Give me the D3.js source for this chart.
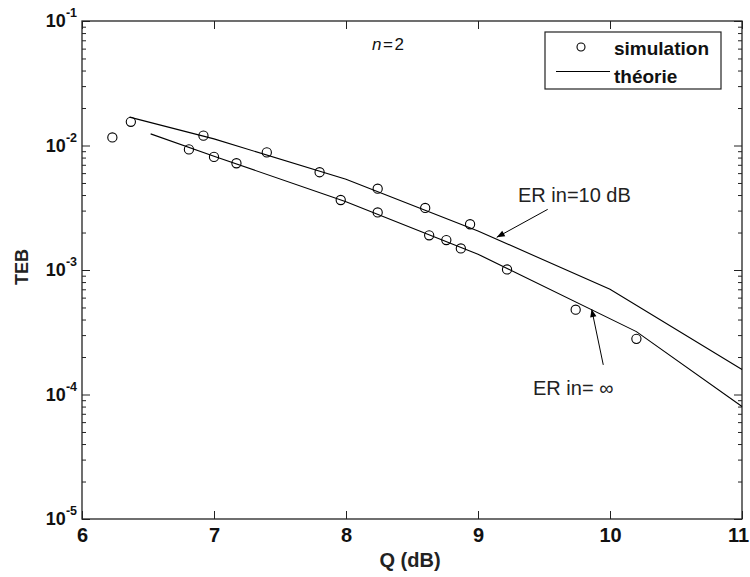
<!DOCTYPE html>
<html>
<head>
<meta charset="utf-8">
<script src="https://cdn.jsdelivr.net/npm/d3@7"></script>
<style>
  html, body { margin: 0; padding: 0; background: #fff; }
  svg { display: block; }
</style>
</head>
<body>
<svg id="chart" width="750" height="577"></svg>
<script>
// Simulated bit error rate (TEB) versus Q factor, n = 2
const simQ   = [6.23, 6.37, 6.81, 6.92, 7.00, 7.17, 7.40, 7.80, 7.96, 8.24, 8.24, 8.60, 8.63, 8.76, 8.87, 8.94, 9.22, 9.74, 10.20];
const simTEB = [1.16e-2, 1.55e-2, 9.3e-3, 1.20e-2, 8.1e-3, 7.2e-3, 8.8e-3, 6.1e-3, 3.65e-3, 4.5e-3, 2.9e-3, 3.15e-3, 1.9e-3, 1.74e-3, 1.49e-3, 2.33e-3, 1.01e-3, 4.8e-4, 2.8e-4];

// Theoretical curves
const theoryQ10    = [6.36, 7, 8, 9, 10, 11];
const theoryTEB10  = [1.69e-2, 1.13e-2, 5.35e-3, 2.06e-3, 7.0e-4, 1.59e-4];
const theoryQinf   = [6.52, 7, 8, 9, 10.2, 11];
const theoryTEBinf = [1.24e-2, 8.2e-3, 3.54e-3, 1.34e-3, 3.2e-4, 8.0e-5];

// Axis ticks
const xTicks = [6, 7, 8, 9, 10, 11];
const yExponents = [-1, -2, -3, -4, -5];

// Text
const xTitle = "Q (dB)";
const yTitle = "TEB";
const legendLabels = ["simulation", "théorie"];
const annotationTexts = ["ER in=10 dB", "ER in= \u221E"];

// ---------------------------------------------------------------
const W = 750, H = 577;
const margin = { left: 82, right: 8, top: 21, bottom: 58 };
const plotW = W - margin.left - margin.right;   // 660
const plotH = H - margin.top - margin.bottom;   // 498

const svg = d3.select("#chart");
svg.append("rect").attr("width", W).attr("height", H).attr("fill", "#fff");

const x = d3.scaleLinear().domain([6, 11]).range([margin.left, margin.left + plotW]);
const y = d3.scaleLog().domain([1e-5, 1e-1]).range([margin.top + plotH, margin.top]);

const axisColor = "#222";
const fontFam = "'Liberation Sans', Arial, Helvetica, sans-serif";

// Minor log ticks (2..9 per decade)
const minorTicks = [];
for (let e = -5; e < -1; e++) {
  for (let m = 2; m <= 9; m++) minorTicks.push(m * Math.pow(10, e));
}
const majorTicks = yExponents.map(e => Math.pow(10, e));

function styleAxis(g) {
  g.select(".domain").remove();
  g.selectAll(".tick line").attr("stroke", axisColor).attr("stroke-width", 1);
}

// Bottom axis with labels (last label nudged to stay inside the page)
svg.append("g")
  .attr("transform", `translate(0,${margin.top + plotH})`)
  .call(d3.axisBottom(x).tickValues(xTicks).tickSize(-8).tickPadding(9).tickFormat(d3.format("d")))
  .call(styleAxis)
  .call(g => g.selectAll(".tick text")
    .attr("font-family", fontFam).attr("font-size", 20).attr("font-weight", "bold").attr("fill", "#111")
    .attr("dx", d => d === xTicks[xTicks.length - 1] ? -4 : 0));

// Top axis (ticks only)
svg.append("g")
  .attr("transform", `translate(0,${margin.top})`)
  .call(d3.axisTop(x).tickValues(xTicks).tickSize(-8).tickFormat(""))
  .call(styleAxis);

// Left axis: major and minor ticks
svg.append("g")
  .attr("transform", `translate(${margin.left},0)`)
  .call(d3.axisLeft(y).tickValues(majorTicks).tickSize(-8).tickFormat(""))
  .call(styleAxis);
svg.append("g")
  .attr("transform", `translate(${margin.left},0)`)
  .call(d3.axisLeft(y).tickValues(minorTicks).tickSize(-4).tickFormat(""))
  .call(styleAxis);

// Right axis: major and minor ticks
svg.append("g")
  .attr("transform", `translate(${margin.left + plotW},0)`)
  .call(d3.axisRight(y).tickValues(majorTicks).tickSize(-8).tickFormat(""))
  .call(styleAxis);
svg.append("g")
  .attr("transform", `translate(${margin.left + plotW},0)`)
  .call(d3.axisRight(y).tickValues(minorTicks).tickSize(-4).tickFormat(""))
  .call(styleAxis);

// Y tick labels as powers of ten
const yLab = svg.append("g").attr("font-family", fontFam).attr("font-weight", "bold").attr("fill", "#111");
yExponents.forEach(e => {
  const t = yLab.append("text")
    .attr("x", margin.left - 5)
    .attr("y", y(Math.pow(10, e)) + 6)
    .attr("text-anchor", "end");
  t.append("tspan").attr("font-size", 18).text("10");
  t.append("tspan").attr("font-size", 12.5).attr("dy", -10).text(String(e));
});

// Frame
svg.append("rect")
  .attr("x", margin.left).attr("y", margin.top)
  .attr("width", plotW).attr("height", plotH)
  .attr("fill", "none").attr("stroke", axisColor).attr("stroke-width", 1.3);

// Theory lines
const line = d3.line().x(d => x(d[0])).y(d => y(d[1]));
const curves = [
  d3.zip(theoryQ10, theoryTEB10),
  d3.zip(theoryQinf, theoryTEBinf)
];
svg.append("g").selectAll("path").data(curves).join("path")
  .attr("d", line)
  .attr("fill", "none").attr("stroke", "#000").attr("stroke-width", 1.1);

// Simulation markers
svg.append("g").selectAll("circle").data(d3.zip(simQ, simTEB)).join("circle")
  .attr("cx", d => x(d[0])).attr("cy", d => y(d[1])).attr("r", 4.6)
  .attr("fill", "none").attr("stroke", "#000").attr("stroke-width", 1.1);

// Arrow head marker
svg.append("defs").append("marker")
  .attr("id", "head").attr("markerUnits", "userSpaceOnUse")
  .attr("viewBox", "0 0 10 10").attr("refX", 10).attr("refY", 5)
  .attr("markerWidth", 9).attr("markerHeight", 8).attr("orient", "auto")
  .append("path").attr("d", "M0,1 L10,5 L0,9 Z").attr("fill", "#000");

// Annotations (data coordinates)
const annotationLayout = [
  { tx: 9.303, ty: 3.52e-3, from: [9.528, 3.07e-3], to: [9.142, 1.83e-3] },
  { tx: 9.417, ty: 9.9e-5,  from: [9.949, 1.73e-4], to: [9.861, 4.85e-4] }
];
annotationLayout.forEach((a, i) => {
  svg.append("line")
    .attr("x1", x(a.from[0])).attr("y1", y(a.from[1]))
    .attr("x2", x(a.to[0])).attr("y2", y(a.to[1]))
    .attr("stroke", "#000").attr("stroke-width", 1)
    .attr("marker-end", "url(#head)");
  svg.append("text")
    .attr("x", x(a.tx)).attr("y", y(a.ty))
    .attr("font-family", fontFam).attr("font-size", 20).attr("fill", "#222")
    .text(annotationTexts[i]);
});

// n=2 label
const nLab = svg.append("text")
  .attr("x", 372).attr("y", 50)
  .attr("font-family", fontFam).attr("font-size", 17).attr("fill", "#111")
  .attr("letter-spacing", 1.5);
nLab.append("tspan").attr("font-style", "italic").text("n");
nLab.append("tspan").text("=2");

// Legend
const lg = svg.append("g").attr("font-family", fontFam).attr("font-weight", "bold").attr("font-size", 19).attr("fill", "#111");
lg.append("rect").attr("x", 545).attr("y", 32).attr("width", 176).attr("height", 57)
  .attr("fill", "#fff").attr("stroke", axisColor).attr("stroke-width", 1.2);
lg.append("circle").attr("cx", 581).attr("cy", 47).attr("r", 4)
  .attr("fill", "none").attr("stroke", "#000").attr("stroke-width", 1.1);
lg.append("text").attr("x", 614).attr("y", 55).text(legendLabels[0]);
lg.append("line").attr("x1", 556).attr("x2", 610).attr("y1", 71.5).attr("y2", 71.5)
  .attr("stroke", "#000").attr("stroke-width", 1.1);
lg.append("text").attr("x", 614).attr("y", 83).text(legendLabels[1]);

// Axis titles
svg.append("text")
  .attr("x", margin.left + plotW / 2 - 2).attr("y", 567)
  .attr("text-anchor", "middle")
  .attr("font-family", fontFam).attr("font-size", 20).attr("font-weight", "bold").attr("fill", "#222")
  .text(xTitle);
svg.append("text")
  .attr("transform", `translate(28,267) rotate(-90)`)
  .attr("text-anchor", "middle")
  .attr("font-family", fontFam).attr("font-size", 18).attr("font-weight", "bold").attr("fill", "#222")
  .text(yTitle);
</script>
</body>
</html>
